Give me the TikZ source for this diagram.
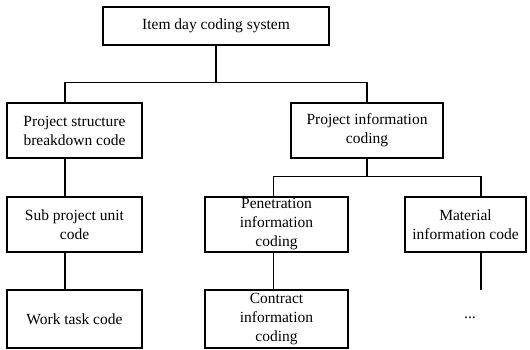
\documentclass[tikz,border=0pt]{standalone}
\usepackage{fontspec}
\setmainfont{Liberation Serif}
\begin{document}
\begin{tikzpicture}[x=1pt,y=-1pt,
  box/.style={draw=black,line width=1.1pt,fill=white,inner sep=0pt,align=center,
    font=\fontsize{15.5}{19}\selectfont},
  link/.style={draw=black,line width=1.1pt}]
\useasboundingbox (0,0) rectangle (530,350);

% boxes
\node[box,minimum width=226pt,minimum height=38pt] (top) at (216,26) {Item day coding system};
\node[box,minimum width=135pt,minimum height=55pt] (psb) at (74.5,130.5) {Project structure\\breakdown code};
\node[box,minimum width=152pt,minimum height=55pt] (pic) at (367,130.5) {Project information\\coding};
\node[box,minimum width=135pt,minimum height=55pt] (sub) at (74.5,224.5) {Sub project unit\\code};
\node[box,minimum width=143pt,minimum height=55pt] (pen) at (276.5,224.5) {Penetration\\information\\coding};
\node[box,minimum width=121pt,minimum height=55pt] (mat) at (465.5,224.5) {Material\\information code};
\node[box,minimum width=135pt,minimum height=58pt] (work) at (74.5,319) {Work task code};
\node[box,minimum width=143pt,minimum height=58pt] (con) at (276.5,319) {Contract\\information\\coding};
\node[font=\fontsize{15.5}{19}\selectfont,inner sep=0pt] (dots) at (470,318) {...};

% junction points of the tree
\coordinate (ja) at (65,82.3);
\coordinate (jb) at (367,82.3);
\coordinate (jc) at (273.3,176.7);
\coordinate (jd) at (481,176.7);
\coordinate (je) at (481,290);

% connectors
\draw[link] (top.south) -- (top.south |- ja);
\draw[link] (psb.north -| ja) -- (ja) -- (jb) -- (pic.north);
\draw[link] (psb.south -| ja) -- (sub.north -| ja);
\draw[link] (sub.south -| ja) -- (work.north -| ja);
\draw[link] (pic.south) -- (pic.south |- jc);
\draw[link] (pen.north -| jc) -- (jc) -- (jd) -- (mat.north -| jd);
\draw[link] (pen.south -| jc) -- (con.north -| jc);
\draw[link] (mat.south -| jd) -- (je);
\end{tikzpicture}
\end{document}
